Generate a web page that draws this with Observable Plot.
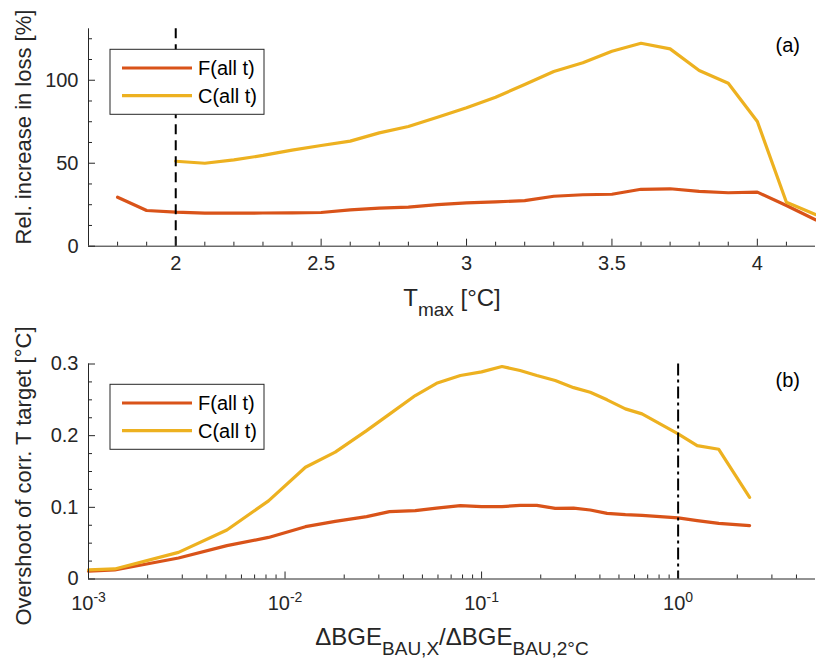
<!DOCTYPE html>
<html><head><meta charset="utf-8">
<script src="https://cdn.jsdelivr.net/npm/d3@7"></script>
<script src="https://cdn.jsdelivr.net/npm/@observablehq/plot@0.6"></script>
<style>
body{margin:0;background:#fff;}
#chart{width:816px;height:671px;}
#chart svg{display:block;}
</style></head><body><div id="chart"></div>
<script>
// ---- data ----
const seriesNames = ["F(all t)", "C(all t)"];
const seriesColors = ["#D95319", "#EDB120"];

// panel (a)
const tmax = [1.8,1.9,2.0,2.1,2.2,2.3,2.4,2.5,2.6,2.7,2.8,2.9,3.0,3.1,3.2,3.3,3.4,3.5,3.6,3.7,3.8,3.9,4.0,4.1,4.2];
const lossF = [29.5,21.5,20.5,19.9,19.9,20.0,20.1,20.3,21.9,22.9,23.5,25.0,26.1,26.7,27.5,30.1,31.0,31.3,34.3,34.6,33.0,32.2,32.6,24.5,15.9];
const lossC = [null,null,51.2,50.0,52.0,54.7,57.9,60.7,63.3,68.3,72.1,77.7,83.4,89.8,97.4,105.3,110.5,117.5,122.3,118.9,105.9,98.2,75.1,26.5,19.1];
const tmaxRef = [2];
const tmaxTicks = [2, 2.5, 3, 3.5, 4];
const tmaxMinor = [1.8,1.9,2.1,2.2,2.3,2.4,2.6,2.7,2.8,2.9,3.1,3.2,3.3,3.4,3.6,3.7,3.8,3.9,4.1];
const lossTicks = [0, 50, 100];
const lossMinor = [12.5,25,37.5,62.5,75,87.5,112.5,125];

// panel (b)
const ratio = [0.001,0.00136,0.00287,0.00506,0.00824,0.0127,0.018,0.026,0.034,0.046,0.059,0.078,0.1,0.127,0.157,0.191,0.237,0.294,0.357,0.435,0.539,0.655,1.0,1.25,1.61,2.31];
const overF = [0.011,0.0126,0.0293,0.0465,0.058,0.073,0.0804,0.087,0.094,0.0954,0.099,0.1024,0.101,0.101,0.1028,0.1028,0.0986,0.099,0.0963,0.0916,0.0898,0.0888,0.0852,0.0814,0.0777,0.0744];
const overC = [0.0126,0.014,0.0372,0.0684,0.109,0.156,0.177,0.207,0.230,0.256,0.273,0.284,0.289,0.2965,0.291,0.284,0.277,0.267,0.2606,0.250,0.2374,0.2304,0.2025,0.186,0.181,0.114];
const ratioRef = [1];
const ratioTicks = [0.001, 0.01, 0.1, 1];
const ratioMinor = [0.002,0.003,0.004,0.005,0.006,0.007,0.008,0.009,0.02,0.03,0.04,0.05,0.06,0.07,0.08,0.09,0.2,0.3,0.4,0.5,0.6,0.7,0.8,0.9,2,3,4];
const overTicks = [0, 0.1, 0.2, 0.3];
const overMinor = [0.025,0.05,0.075,0.125,0.15,0.175,0.225,0.25,0.275];

// ---- tidy tables ----
const topData = [];
tmax.forEach((t, i) => {
  topData.push({x: t, y: lossF[i], s: seriesNames[0]});
  if (lossC[i] != null) topData.push({x: t, y: lossC[i], s: seriesNames[1]});
});
const botData = [];
ratio.forEach((r, i) => {
  botData.push({x: r, y: overF[i], s: seriesNames[0]});
  botData.push({x: r, y: overC[i], s: seriesNames[1]});
});

const font = "'Liberation Sans', Arial, Helvetica, sans-serif";
const ink = "#262626";
const tickFs = 20;

function axes(xTicks, xMinor, yTicks, yMinor, xFmt, xPad) {
  return [
    Plot.axisX({ticks: xTicks, tickSize: -7, tickPadding: xPad, tickFormat: xFmt, label: null, fontSize: tickFs, stroke: ink, fill: ink}),
    Plot.axisX({ticks: xMinor, tickSize: -4, tickFormat: () => "", label: null, stroke: ink}),
    Plot.axisY({ticks: yTicks, tickSize: -7, tickPadding: 17, tickFormat: d => String(d), label: null, fontSize: tickFs, stroke: ink, fill: ink}),
    Plot.axisY({ticks: yMinor, tickSize: -4, tickFormat: () => "", label: null, stroke: ink})
  ];
}

const topPlot = Plot.plot({
  width: 816, height: 335,
  marginLeft: 88, marginRight: 1, marginTop: 28.3, marginBottom: 89.3,
  style: {fontFamily: font, fontSize: "20px", color: ink, background: "white", overflow: "visible"},
  x: {domain: [1.7, 4.2], label: null},
  y: {domain: [0, 131], label: null},
  color: {domain: seriesNames, range: seriesColors},
  marks: [
    Plot.line(topData, {x: "x", y: "y", z: "s", stroke: "s", strokeWidth: 3.2}),
    Plot.ruleX(tmaxRef, {stroke: "black", strokeWidth: 2, strokeDasharray: "10,6"}),
    Plot.ruleY([0], {stroke: ink}),
    Plot.ruleX([1.7], {stroke: ink}),
    ...axes(tmaxTicks, tmaxMinor, lossTicks, lossMinor, d => String(d), 17)
  ]
});

const botPlot = Plot.plot({
  width: 816, height: 336,
  marginLeft: 88, marginRight: 1, marginTop: 28.5, marginBottom: 92.5,
  style: {fontFamily: font, fontSize: "20px", color: ink, background: "white", overflow: "visible"},
  x: {type: "log", domain: [0.001, 5], label: null},
  y: {domain: [0, 0.3], label: null},
  color: {domain: seriesNames, range: seriesColors},
  marks: [
    Plot.line(botData, {x: "x", y: "y", z: "s", stroke: "s", strokeWidth: 3.2}),
    Plot.ruleX(ratioRef, {stroke: "black", strokeWidth: 2, strokeDasharray: "12,4,3,4"}),
    Plot.ruleY([0], {stroke: ink}),
    Plot.ruleX([0.001], {stroke: ink}),
    ...axes(ratioTicks, ratioMinor, overTicks, overMinor, d => "10^" + Math.round(Math.log10(d)), 24)
  ]
});

const chart = document.getElementById("chart");
chart.appendChild(topPlot);
chart.appendChild(botPlot);

// superscripted log tick labels
d3.select(botPlot).selectAll('g[aria-label="x-axis tick label"] text').each(function() {
  const t = this.textContent;
  if (!t.includes("^")) return;
  const [base, exp] = t.split("^");
  const el = d3.select(this);
  el.text(null);
  el.append("tspan").text(base);
  el.append("tspan").attr("dy", -8).attr("font-size", 14).text(exp);
});

function legend(svg) {
  const g = d3.select(svg).append("g").attr("font-family", font).attr("font-size", 20)
    .attr("fill", "black").attr("text-anchor", "start");
  g.append("rect").attr("x", 110).attr("y", 49.3).attr("width", 154).attr("height", 65)
    .attr("fill", "white").attr("stroke", ink).attr("stroke-width", 1);
  seriesNames.forEach((n, i) => {
    const y = 68 + i * 27.7;
    g.append("line").attr("x1", 122).attr("x2", 192).attr("y1", y).attr("y2", y)
      .attr("stroke", seriesColors[i]).attr("stroke-width", 3.2);
    g.append("text").attr("x", 198).attr("y", y).attr("dy", "0.36em")
      .attr("text-anchor", "start").text(n);
  });
}
legend(topPlot);
legend(botPlot);

function panelTag(svg, label) {
  d3.select(svg).append("text").attr("x", 800).attr("y", 52).attr("text-anchor", "end")
    .attr("font-family", font).attr("font-size", 20).attr("fill", "black").text(label);
}
panelTag(topPlot, "(a)");
panelTag(botPlot, "(b)");

function yLabel(svg, cy, label) {
  d3.select(svg).append("text").attr("transform", `translate(31,${cy}) rotate(-90)`)
    .attr("text-anchor", "middle").attr("font-family", font).attr("font-size", 22)
    .attr("fill", ink).text(label);
}
yLabel(topPlot, 127, "Rel. increase in loss [%]");
yLabel(botPlot, 476 - 335, "Overshoot of corr. T target [°C]");

function xLabel(svg, cx, y, parts) {
  const t = d3.select(svg).append("text").attr("x", cx).attr("y", y).attr("text-anchor", "middle")
    .attr("font-family", font).attr("font-size", 24).attr("fill", ink);
  let shift = 0;
  parts.forEach(([s, sub]) => {
    const target = sub ? 10 : 0;
    t.append("tspan").attr("dy", target - shift).attr("font-size", sub ? 19 : 24).text(s);
    shift = target;
  });
}
xLabel(topPlot, 452, 306, [["T", false], ["max", true], [" [°C]", false]]);
xLabel(botPlot, 452, 645 - 335, [["ΔBGE", false], ["BAU,X", true], ["/ΔBGE", false], ["BAU,2°C", true]]);
</script></body></html>
